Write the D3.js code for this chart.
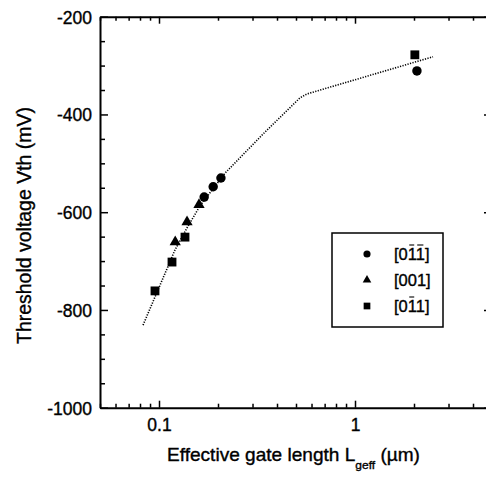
<!DOCTYPE html>
<html>
<head>
<meta charset="utf-8">
<script src="https://cdn.jsdelivr.net/npm/d3@7"></script>
<style>
  html, body { margin: 0; padding: 0; background: #fff; }
  svg { display: block; }
  text { font-family: "Liberation Sans", Arial, sans-serif; fill: #000; stroke: #000; stroke-width: 0.35px; }
</style>
</head>
<body>
<svg id="chart" width="486" height="477"></svg>
<script>
// ---- data ----
const circleX = [0.170, 0.189, 0.207, 2.07];
const circleY = [-569, -548, -530, -311];
const triangleX = [0.121, 0.139, 0.160];
const triangleY = [-661, -620, -585];
const squareX = [0.0954, 0.1165, 0.1357, 2.02];
const squareY = [-761, -702, -651, -278];
const fitX = [0.0829, 0.1048, 0.1207, 0.139, 0.1619, 0.2172, 0.3475, 0.524, 0.569, 2.5];
const fitY = [-831, -735, -677, -632, -587, -520, -436, -366, -358, -282];
const xTickValues = [0.1, 1];
const xTickLabels = ["0.1", "1"];
const yTickValues = [-1000, -800, -600, -400, -200];
const yTickLabels = ["-1000", "-800", "-600", "-400", "-200"];
const legendLabels = ["[011]", "[001]", "[011]"];
const legendOverlined = [[2, 3], [], [2]];
const xTitle = "Effective gate length L";
const xTitleSub = "geff";
const xTitleEnd = " (\u00b5m)";
const yTitle = "Threshold voltage Vth (mV)";

// ---- layout ----
const L = 100, R = 492, T = 16.7, B = 407.7;
const svg = d3.select("#chart");
const x = d3.scaleLog().domain([0.05, 5]).range([L, R]);
const y = d3.scaleLinear().domain([-1000, -200]).range([B, T]);

// minor ticks
const xMinor = [];
[0.01, 0.1, 1].forEach(d => { for (let k = 2; k <= 9; k++) { const v = d * k; if (v >= 0.05 && v <= 5) xMinor.push(v); } });
const yMinor = d3.range(-1000, -199, 50).filter(v => v % 200 !== 0);

const gAx = svg.append("g");
// bottom axis
const bottom = d3.axisBottom(x).tickValues(xTickValues).tickFormat((d, i) => xTickLabels[i]).tickSizeInner(-7).tickSizeOuter(0).tickPadding(11);
const gb = gAx.append("g").attr("transform", `translate(0,${B})`).call(bottom);
gAx.append("g").attr("transform", `translate(0,${B})`)
  .call(d3.axisBottom(x).tickValues(xMinor).tickFormat("").tickSizeInner(-4).tickSizeOuter(0))
  .select(".domain").remove();
// top axis
gAx.append("g").attr("transform", `translate(0,${T})`)
  .call(d3.axisTop(x).tickValues(xTickValues).tickFormat("").tickSizeInner(-7).tickSizeOuter(0));
gAx.append("g").attr("transform", `translate(0,${T})`)
  .call(d3.axisTop(x).tickValues(xMinor).tickFormat("").tickSizeInner(-4).tickSizeOuter(0))
  .select(".domain").remove();
// left axis
const gl = gAx.append("g").attr("transform", `translate(${L},0)`)
  .call(d3.axisLeft(y).tickValues(yTickValues).tickFormat((d, i) => yTickLabels[i]).tickSizeInner(-8).tickSizeOuter(0).tickPadding(8));
gAx.append("g").attr("transform", `translate(${L},0)`)
  .call(d3.axisLeft(y).tickValues(yMinor).tickFormat("").tickSizeInner(-5).tickSizeOuter(0))
  .select(".domain").remove();
// right axis
gAx.append("g").attr("transform", `translate(${R},0)`)
  .call(d3.axisRight(y).tickValues(yTickValues).tickFormat("").tickSizeInner(-8).tickSizeOuter(0));

gAx.selectAll(".domain").attr("stroke", "#000").attr("stroke-width", 2);
gAx.selectAll(".tick line").attr("stroke", "#000").attr("stroke-width", 1.5);
gAx.selectAll(".tick text").attr("font-family", "Liberation Sans, Arial, sans-serif").attr("font-size", 17.5).attr("fill", "#000");
gb.selectAll(".tick text").attr("dy", "0.71em");
gl.selectAll(".tick text").attr("dy", "0.36em");

function widthOf(sel) { return sel.node().getBBox().width; }

// y title
svg.append("text").text(yTitle)
  .attr("font-size", 19.5).attr("text-anchor", "middle")
  .attr("transform", `translate(31,225.5) rotate(-90)`)
  .attr("textLength", 237).attr("lengthAdjust", "spacingAndGlyphs");

// x title
const xt = svg.append("text").attr("font-size", 17.5);
xt.append("tspan").text(xTitle);
xt.append("tspan").text(xTitleSub).attr("font-size", 11).attr("dy", 8);
xt.append("tspan").text(xTitleEnd).attr("dy", -8);
const xs = (420 - 167) / widthOf(xt);
xt.attr("transform", `translate(167,461) scale(${xs},1)`);

// fit line
const line = d3.line().x((d, i) => x(fitX[i])).y((d, i) => y(fitY[i]));
svg.append("path").datum(fitX).attr("d", line)
  .attr("fill", "none").attr("stroke", "#000").attr("stroke-width", 1.6).attr("stroke-dasharray", "1.2,1.4");

// markers
const sym = {
  circle: d3.symbol().type(d3.symbolCircle),
  triangle: d3.symbol().type(d3.symbolTriangle),
  square: d3.symbol().type(d3.symbolSquare)
};
const gm = svg.append("g");
gm.selectAll("path.c").data(circleX).join("path").attr("class", "c")
  .attr("d", sym.circle.size(70)()).attr("transform", (d, i) => `translate(${x(d)},${y(circleY[i])})`);
gm.selectAll("path.t").data(triangleX).join("path").attr("class", "t")
  .attr("d", sym.triangle.size(55)()).attr("transform", (d, i) => `translate(${x(d)},${y(triangleY[i])})`);
gm.selectAll("path.s").data(squareX).join("path").attr("class", "s")
  .attr("d", sym.square.size(78)()).attr("transform", (d, i) => `translate(${x(d)},${y(squareY[i])})`);
gm.selectAll("path").attr("fill", "#000");

// legend
const lg = svg.append("g");
lg.append("rect").attr("x", 332).attr("y", 233).attr("width", 111).attr("height", 94)
  .attr("fill", "#fff").attr("stroke", "#000").attr("stroke-width", 1.5);
const rowsY = [254, 280, 306];
const legSyms = [sym.circle.size(40)(), sym.triangle.size(32)(), sym.square.size(45)()];
rowsY.forEach((ry, i) => {
  lg.append("path").attr("d", legSyms[i]).attr("transform", `translate(367,${ry})`).attr("fill", "#000");
  const t = lg.append("text").text(legendLabels[i]).attr("x", 394).attr("y", ry).attr("dy", "0.36em")
    .attr("font-size", 16.5).attr("stroke-width", 0.2);
  const node = t.node();
  legendOverlined[i].forEach(ci => {
    const ext = node.getExtentOfChar(ci);
    lg.append("line").attr("x1", ext.x + 1.5).attr("x2", ext.x + ext.width - 1.5)
      .attr("y1", ry - 9).attr("y2", ry - 9).attr("stroke", "#000").attr("stroke-width", 1.1);
  });
});
</script>
</body>
</html>
